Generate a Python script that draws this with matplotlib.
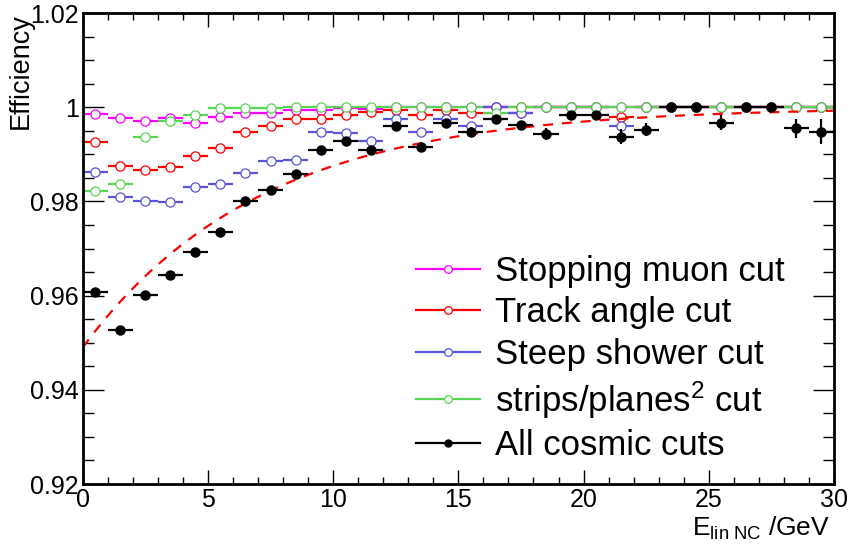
import numpy as np
import matplotlib
matplotlib.use("Agg")
import matplotlib.pyplot as plt
from matplotlib.lines import Line2D
from matplotlib.ticker import MultipleLocator

plt.rcParams["font.family"] = ["Liberation Sans", "DejaVu Sans"]
plt.rcParams["mathtext.fontset"] = "custom"
plt.rcParams["mathtext.rm"] = "Liberation Sans"
plt.rcParams["mathtext.it"] = "Liberation Sans:italic"

# bin centres of E_lin NC [GeV], 1 GeV bins
e_centres = [0.5, 1.5, 2.5, 3.5, 4.5, 5.5, 6.5, 7.5, 8.5, 9.5,
             10.5, 11.5, 12.5, 13.5, 14.5, 15.5, 16.5, 17.5, 18.5, 19.5,
             20.5, 21.5, 22.5, 23.5, 24.5, 25.5, 26.5, 27.5, 28.5, 29.5]
bin_half = 0.5

eff_stopping_muon = [0.9986, 0.9977, 0.9970, 0.9977, 0.9966, 0.9980, 0.9988, 0.9987, 0.9993, 0.9995,
                     0.9998, 0.9997, 1.0, 1.0, 1.0, 1.0, 1.0, 0.9987, 1.0, 1.0,
                     1.0, 1.0, 1.0, 1.0, 1.0, 1.0, 1.0, 1.0, 1.0, 1.0]
eff_track_angle = [0.9927, 0.9875, 0.9867, 0.9874, 0.9897, 0.9913, 0.9947, 0.9960, 0.9974, 0.9976,
                   0.9983, 0.9990, 0.9994, 0.9983, 0.9993, 0.9988, 1.0, 1.0, 1.0, 1.0,
                   1.0, 0.9980, 1.0, 1.0, 1.0, 1.0, 1.0, 1.0, 1.0, 1.0]
eff_steep_shower = [0.9862, 0.9810, 0.9801, 0.9798, 0.9830, 0.9836, 0.9860, 0.9886, 0.9888, 0.9948,
                    0.9946, 0.9928, 0.9974, 0.9948, 0.9976, 0.9960, 1.0, 0.9987, 1.0, 1.0,
                    1.0, 0.9960, 1.0, 1.0, 1.0, 1.0, 1.0, 1.0, 1.0, 1.0]
eff_strips_planes = [0.9822, 0.9838, 0.9937, 0.9971, 0.9983, 0.9998, 0.9998, 0.9998, 1.0, 1.0,
                     1.0, 1.0, 1.0, 1.0, 1.0, 1.0, 0.9988, 1.0, 1.0, 1.0,
                     1.0, 1.0, 1.0, 1.0, 1.0, 1.0, 1.0, 1.0, 1.0, 1.0]
eff_all_cosmic = [0.9607, 0.9527, 0.9602, 0.9644, 0.9692, 0.9734, 0.9801, 0.9824, 0.9858, 0.9909,
                  0.9929, 0.9909, 0.9960, 0.9916, 0.9966, 0.9948, 0.9976, 0.9962, 0.9943, 0.9983,
                  0.9983, 0.9937, 0.9952, 1.0, 1.0, 0.9967, 1.0, 1.0, 0.9955, 0.9948]
err_all_cosmic = [0.0008, 0.0008, 0.0007, 0.0007, 0.0007, 0.0007, 0.0007, 0.0007, 0.0007, 0.0007,
                  0.0007, 0.0008, 0.0007, 0.0008, 0.0007, 0.0009, 0.0007, 0.0009, 0.0012, 0.0008,
                  0.0008, 0.0016, 0.0014, 0.0, 0.0, 0.0016, 0.0, 0.0, 0.0021, 0.0026]

# saturating-exponential fit to "all cosmic cuts": p0 - p1*exp(-E/p2)
fit_p0, fit_p1, fit_p2 = 1.0, 0.051, 7.1

series = [
    ("Stopping muon cut", eff_stopping_muon, "#ff00ff"),
    ("Track angle cut", eff_track_angle, "#ff0000"),
    ("Steep shower cut", eff_steep_shower, "#5954d8"),
    ("strips/planes$^2$ cut", eff_strips_planes, "#59d454"),
]

fig = plt.figure(figsize=(8.49, 5.45), dpi=100)
W, H = 849, 545
ax = fig.add_axes([82.7 / W, 1 - 484 / H, (834 - 82.7) / W, (484 - 13) / H])

handles = []
for label, eff, col in series:
    ax.errorbar(e_centres, eff, xerr=bin_half, fmt="o", color=col, ms=6.6,
                mfc="white", mec=col, mew=0.9, elinewidth=1.6, capsize=0)
    handles.append(Line2D([], [], color=col, lw=1.6, marker="o", ms=5.5,
                          mfc="white", mec=col, mew=0.9, label=label))

ax.errorbar(e_centres, eff_all_cosmic, xerr=bin_half, yerr=err_all_cosmic, fmt="o",
            color="black", ms=6.5, elinewidth=1.6, capsize=0, zorder=3)
handles.append(Line2D([], [], color="black", lw=1.6, marker="o", ms=5,
                      label="All cosmic cuts"))

e_fit = np.linspace(0, 30, 300)
ax.plot(e_fit, fit_p0 - fit_p1 * np.exp(-e_fit / fit_p2), color="red", ls=(0, (4.5, 4)),
        lw=1.6, zorder=2.5)

ax.set_xlim(0, 30)
ax.set_ylim(0.92, 1.02)
ax.xaxis.set_major_locator(MultipleLocator(5))
ax.xaxis.set_minor_locator(MultipleLocator(1))
ax.yaxis.set_major_locator(MultipleLocator(0.02))
ax.yaxis.set_minor_locator(MultipleLocator(0.005))
ax.set_yticks([0.92, 0.94, 0.96, 0.98, 1.0, 1.02], ["0.92", "0.94", "0.96", "0.98", "1", "1.02"])
ax.tick_params(which="both", direction="in", top=True, right=True, labelsize=18, width=1)
ax.tick_params(axis="x", which="major", length=10, pad=3)
ax.tick_params(axis="x", which="minor", length=5)
ax.tick_params(axis="y", which="major", length=15, pad=3)
ax.tick_params(axis="y", which="minor", length=8)
for sp in ax.spines.values():
    sp.set_linewidth(2)

ax.set_ylabel("Efficiency", fontsize=19.5, loc="top", va="center")
ax.yaxis.set_label_coords(-0.083, 1.0)
ax.set_xlabel(r"E$_{\mathrm{lin\ NC}}$ /GeV", fontsize=19, loc="right", va="top")
ax.xaxis.set_label_coords(0.995, -0.066)

ax.legend(handles=handles, loc="upper left", bbox_to_anchor=(416 / W, 1 - 255 / H),
          bbox_transform=fig.transFigure, frameon=False, fontsize=25,
          handlelength=1.85, handletextpad=0.42, labelspacing=0.24, borderaxespad=0,
          borderpad=0)

fig.savefig("out.png", dpi=100)
